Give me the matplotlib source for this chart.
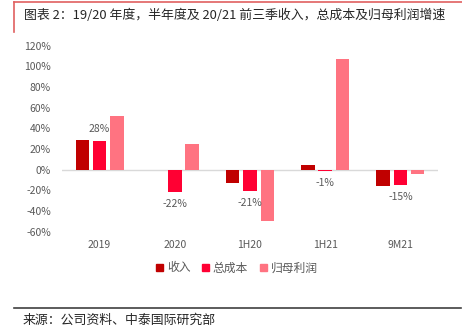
import numpy as np
import matplotlib
matplotlib.use('Agg')
import matplotlib.pyplot as plt
from matplotlib.patches import Patch
from matplotlib.lines import Line2D
from matplotlib.ticker import FuncFormatter

plt.rcParams['font.family'] = ['Noto Sans CJK SC', 'DejaVu Sans']

categories = ['2019', '2020', '1H20', '1H21', '9M21']
revenue = [29, 0, -13, 5, -16]
total_cost = [28, -22, -21, -1, -15]
net_profit = [52, 25, -50, 107, -4]
series_names = ['收入', '总成本', '归母利润']
colors = ['#C00000', '#FF0033', '#FF7381']
cost_labels = ['28%', '-22%', '-21%', '-1%', '-15%']

W, H = 462, 335
fig = plt.figure(figsize=(W / 100, H / 100), dpi=100)
ax = fig.add_axes([62 / W, 1 - 231.7 / H, (438 - 62) / W, (231.7 - 45.7) / H])

x = np.arange(len(categories))
step = 0.23
width = 0.18
for k, (vals, c, name) in enumerate(zip([revenue, total_cost, net_profit], colors, series_names)):
    ax.bar(x + (k - 1) * step, vals, width, color=c, label=name, zorder=2)

for xi, v, lab in zip(x, total_cost, cost_labels):
    off = 8.6 if v >= 0 else -8.6
    ax.annotate(lab, (xi, v), xytext=(0, off), textcoords='offset points',
                ha='center', va='center', fontsize=7.5, color='#595959')

ax.axhline(0, color='#D9D9D9', lw=1, zorder=1)
ax.set_xlim(-0.5, len(categories) - 0.5)
ax.set_ylim(-60, 120)
ax.set_yticks(np.arange(-60, 121, 20))
ax.yaxis.set_major_formatter(FuncFormatter(lambda v, p: f'{v:.0f}%'))
ax.set_xticks(x)
ax.set_xticklabels(categories)
ax.tick_params(axis='y', length=0, pad=8, labelsize=7.5, labelcolor='#595959')
ax.tick_params(axis='x', length=0, pad=6, labelsize=7.5, labelcolor='#595959')
for s in ax.spines.values():
    s.set_visible(False)

handles = [Patch(color=c, label=n) for c, n in zip(colors, series_names)]
leg = fig.legend(handles=handles, loc='center', bbox_to_anchor=(237 / W, 1 - 268 / H),
                 ncol=3, frameon=False, fontsize=8.5, handlelength=0.6, handleheight=0.6,
                 handletextpad=0.3, columnspacing=1.0)
for t in leg.get_texts():
    t.set_color('#595959')

# frame lines
fig.add_artist(Line2D([14 / W, 1], [1 - 1.5 / H, 1 - 1.5 / H], color='#E06060', lw=1.2))
fig.add_artist(Line2D([14 / W, 14 / W], [1 - 2 / H, 1 - 32 / H], color='#E06060', lw=1.2))
fig.add_artist(Line2D([14 / W, 461 / W], [1 - 308 / H, 1 - 308 / H], color='#404040', lw=1.2))

fig.text(24 / W, 1 - 15 / H, '图表 2：19/20 年度，半年度及 20/21 前三季收入，总成本及归母利润增速',
         fontsize=9.3, color='#262626', va='center', ha='left')
fig.text(23 / W, 1 - 320 / H, '来源：公司资料、中泰国际研究部',
         fontsize=9.3, color='#262626', va='center', ha='left')

fig.savefig('out.png', dpi=100)
